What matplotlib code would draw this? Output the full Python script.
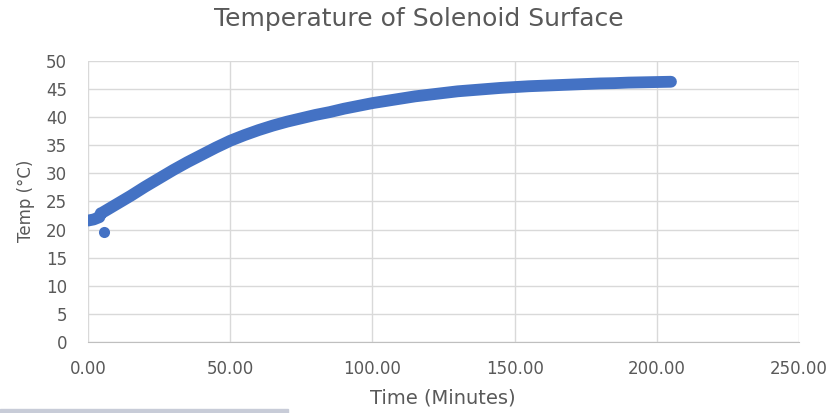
import matplotlib
matplotlib.use("Agg")
import matplotlib.pyplot as plt
from matplotlib.patches import Rectangle

# readings taken off the chart (minutes, deg C)
time_min = [0, 1, 2, 3, 4, 4.5,
            5, 10, 15, 20, 25, 30, 35, 40, 45, 50,
            55, 60, 65, 70, 75, 80, 85, 90, 95, 100,
            105, 110, 115, 120, 125, 130, 135, 140, 145, 150,
            155, 160, 165, 170, 175, 180, 185, 190, 195, 200, 205]
temp_c = [21.6, 21.7, 21.8, 22.0, 22.2, 22.9,
          23.0, 24.5, 26.0, 27.6, 29.1, 30.6, 32.0, 33.3, 34.6, 35.8,
          36.8, 37.7, 38.5, 39.2, 39.8, 40.4, 40.9, 41.5, 42.0, 42.5,
          42.9, 43.3, 43.7, 44.0, 44.3, 44.6, 44.8, 45.0, 45.2, 45.35,
          45.5, 45.6, 45.7, 45.8, 45.9, 46.0, 46.05, 46.15, 46.2, 46.25, 46.3]
# single stray reading below the curve
outlier_time = [5.6]
outlier_temp = [19.6]

x_ticks = [0, 50, 100, 150, 200, 250]
y_ticks = [0, 5, 10, 15, 20, 25, 30, 35, 40, 45, 50]

blue = '#4472C4'
grey_text = '#595959'
plt.rcParams['font.family'] = ['DejaVu Sans']

fig = plt.figure(figsize=(8.38, 4.13), dpi=100)
ax = fig.add_axes([0.105, 0.172, 0.8484, 0.6804])

# dense scatter drawn as a thick round-capped band through the readings
ax.plot(time_min, temp_c, color=blue, lw=8.5, solid_capstyle='round',
        solid_joinstyle='round', zorder=3)
ax.plot(outlier_time, outlier_temp, 'o', color=blue, ms=8, mew=0, zorder=3)

ax.set_xlim(0, 250)
ax.set_ylim(0, 50)
ax.set_xticks(x_ticks)
ax.set_xticklabels(['%.2f' % v for v in x_ticks])
ax.set_yticks(y_ticks)
ax.grid(True, color='#d9d9d9', lw=1)
ax.set_axisbelow(True)
for s in ['top', 'right', 'left']:
    ax.spines[s].set_visible(False)
ax.spines['bottom'].set_color('#bfbfbf')
ax.tick_params(axis='x', length=0, pad=13, labelsize=12, labelcolor=grey_text)
ax.tick_params(axis='y', length=0, pad=15, labelsize=12, labelcolor=grey_text)

fig.text(0.5, 0.953, 'Temperature of Solenoid Surface', ha='center', va='center',
         fontsize=18, color=grey_text)
fig.text(0.529, 0.036, 'Time (Minutes)', ha='center', va='center',
         fontsize=14, color=grey_text)
fig.text(0.031, 0.513, 'Temp (°C)', ha='center', va='center', rotation=90,
         fontsize=12, color=grey_text)

# grey strip along the bottom-left edge of the screenshot
fig.patches.append(Rectangle((0, 0), 288 / 838, 4.5 / 413, transform=fig.transFigure,
                             color='#c8ccd8', zorder=0))

fig.savefig('out.png', dpi=100)
